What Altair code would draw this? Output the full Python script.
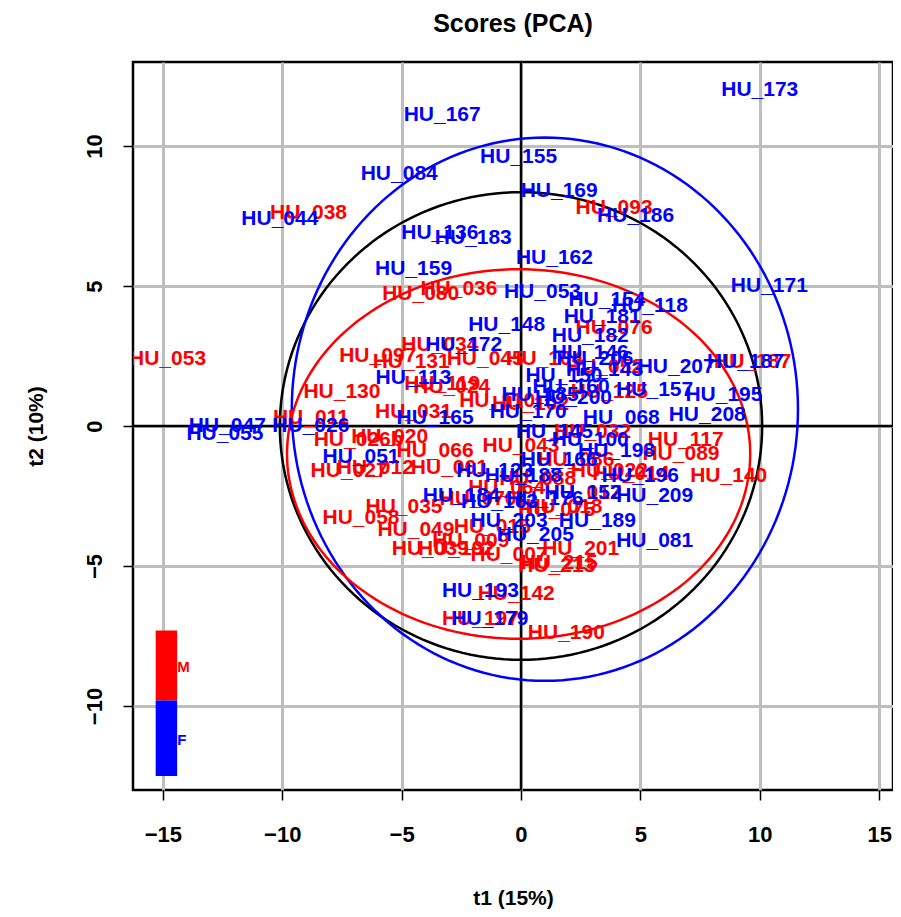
import numpy as np
import pandas as pd
import altair as alt

# sample scores (t1, t2), by sex
male_ids = ["HU_038", "HU_093", "HU_036", "HU_080", "HU_076", "HU_034", "HU_097", "HU_131",
            "HU_045", "HU_053", "HU_187", "HU_130", "HU_125", "HU_011", "HU_117", "HU_089",
            "HU_140", "HU_027", "HU_058", "HU_049", "HU_018", "HU_201", "HU_213", "HU_192",
            "HU_142", "HU_197", "HU_190", "HU_035", "HU_022", "HU_020", "HU_104", "HU_026b",
            "HU_061", "HU_070", "HU_014", "HU_031", "HU_119", "HU_102", "HU_032", "HU_015",
            "HU_009", "HU_064", "HU_075", "HU_012", "HU_086", "HU_024", "HU_043", "HU_066",
            "HU_110", "HU_215", "HU_017", "HU_007", "HU_088", "HU_039", "HU_052"]
male_t1 = [-8.9, 3.9, -2.6, -4.2, 3.9, -3.4, -6.0, -4.6,
           -1.5, -14.8, 9.7, -7.5, 3.7, -8.8, 6.9, 6.7,
           8.7, -7.2, -6.7, -4.4, 1.8, 2.5, 1.5, -2.7,
           -0.2, -1.7, 1.9, -4.9, 3.7, -5.5, 1.0, -6.8,
           -3.0, -1.8, 4.6, -4.5, -3.3, 0.4, 3.0, -1.2,
           -2.1, -0.6, 1.5, -6.1, 2.3, -2.9, 0.0, -3.6,
           -1.0, 1.6, 2.6, -0.5, 0.7, -3.8, 3.5]
male_t2 = [7.6, 7.8, 4.9, 4.7, 3.5, 2.9, 2.5, 2.3,
           2.4, 2.4, 2.3, 1.2, 1.2, 0.3, -0.5, -1.0,
           -1.8, -1.6, -3.3, -3.7, -2.9, -4.4, -5.0, -4.4,
           -6.0, -6.9, -7.4, -2.9, -1.6, -0.4, 2.4, -0.5,
           -1.5, -2.6, -1.7, 0.5, 1.5, 0.8, -0.2, -3.6,
           -4.1, -2.2, -3.0, -1.5, -1.2, 1.4, -0.7, -0.9,
           0.9, -4.9, -2.4, -4.6, -1.9, -4.4, 2.1]

female_ids = ["HU_167", "HU_155", "HU_084", "HU_169", "HU_186", "HU_044", "HU_136", "HU_183",
              "HU_162", "HU_159", "HU_053", "HU_154", "HU_118", "HU_171", "HU_173", "HU_181",
              "HU_148", "HU_182", "HU_172", "HU_146", "HU_207", "HU_187", "HU_157", "HU_195",
              "HU_208", "HU_185", "HU_068", "HU_047", "HU_026", "HU_055", "HU_051", "HU_100",
              "HU_166", "HU_188", "HU_196", "HU_209", "HU_189", "HU_081", "HU_203", "HU_193",
              "HU_179", "HU_150", "HU_143", "HU_160", "HU_184", "HU_165", "HU_176", "HU_123",
              "HU_198", "HU_152", "HU_170", "HU_145", "HU_206", "HU_113", "HU_205", "HU_200",
              "HU_163"]
female_t1 = [-3.3, -0.1, -5.1, 1.6, 4.8, -10.1, -3.4, -2.0,
             1.4, -4.5, 0.9, 3.6, 5.4, 10.4, 10.0, 3.4,
             -0.6, 2.9, -2.4, 2.9, 6.5, 9.4, 5.6, 8.5,
             7.8, 0.8, 4.2, -12.3, -8.8, -12.4, -6.7, 2.9,
             1.6, 0.1, 5.0, 5.6, 3.2, 5.6, -0.5, -1.7,
             -1.3, 1.8, 3.5, 2.1, -2.5, -3.6, 1.0, -1.1,
             4.0, 2.6, 0.3, 1.4, 3.1, -4.5, 0.6, 2.2, -0.9]
female_t2 = [11.1, 9.6, 9.0, 8.4, 7.5, 7.4, 6.9, 6.7,
             6.0, 5.6, 4.8, 4.5, 4.3, 5.0, 12.0, 3.9,
             3.6, 3.2, 2.9, 2.6, 2.1, 2.3, 1.3, 1.1,
             0.4, 1.1, 0.3, 0.0, 0.0, -0.3, -1.1, -0.5,
             -1.2, -1.8, -1.8, -2.5, -3.4, -4.1, -3.4, -5.9,
             -6.9, 1.8, 2.0, 1.4, -2.5, 0.3, -2.6, -1.6,
             -0.9, -2.4, 0.5, -0.2, 2.4, 1.7, -3.9, 1.0, -2.7]

# confidence ellipses: name, centre t1, centre t2, radius t1, radius t2
ell_names = ["all", "F", "M"]
ell_cx = [0.0, 1.0, -0.1]
ell_cy = [0.0, 0.6, -1.0]
ell_rx = [10.1, 10.6, 9.7]
ell_ry = [8.35, 9.7, 6.6]
ell_colors = ["black", "blue", "red"]

xdom = [-16.25, 15.58]
ydom = [-13.0, 13.0]

pts = pd.concat([
    pd.DataFrame({"id": male_ids, "t1": male_t1, "t2": male_t2, "sex": "M"}),
    pd.DataFrame({"id": female_ids, "t1": female_t1, "t2": female_t2, "sex": "F"}),
])

ang = np.linspace(0, 2 * np.pi, 181)
ell_rows = []
for n, cx, cy, rx, ry in zip(ell_names, ell_cx, ell_cy, ell_rx, ell_ry):
    for i, a in enumerate(ang):
        ell_rows.append({"e": n, "o": i, "t1": cx + rx * np.cos(a), "t2": cy + ry * np.sin(a)})
ell = pd.DataFrame(ell_rows)

xs = alt.Scale(domain=xdom, nice=False, zero=False)
ys = alt.Scale(domain=ydom, nice=False, zero=False)
ticks = [-15, -10, -5, 0, 5, 10, 15]
FONT = "Liberation Sans"
xaxis = alt.Axis(values=ticks, grid=True, gridColor="#bebebe", gridWidth=3, domain=False,
                 tickColor="black", tickSize=10, tickWidth=1.5, labelFontSize=22, labelFontWeight="bold",
                 labelColor="black", labelPadding=24, title="t1 (15%)", titleFontSize=21,
                 titleFontWeight="bold", titlePadding=42, labelFont=FONT, titleFont=FONT)
yaxis = alt.Axis(values=[-10, -5, 0, 5, 10], grid=True, gridColor="#bebebe", gridWidth=3, domain=False,
                 tickColor="black", tickSize=10, tickWidth=1.5, labelFontSize=22, labelFontWeight="bold",
                 labelColor="black", labelAngle=270, labelAlign="center", labelBaseline="bottom",
                 labelPadding=17, title="t2 (10%)", titleFontSize=21, titleFontWeight="bold",
                 titlePadding=37, labelFont=FONT, titleFont=FONT)

base = alt.Chart(pts).mark_point(opacity=0).encode(
    x=alt.X("t1:Q", scale=xs, axis=xaxis), y=alt.Y("t2:Q", scale=ys, axis=yaxis))

zero_lines = alt.Chart(pd.DataFrame({"v": [0]})).mark_rule(color="black", strokeWidth=2.5)
vline = zero_lines.encode(x=alt.X("v:Q", scale=xs))
hline = zero_lines.encode(y=alt.Y("v:Q", scale=ys))

ellipses = alt.Chart(ell).mark_line(strokeWidth=2.5, clip=True).encode(
    x=alt.X("t1:Q", scale=xs), y=alt.Y("t2:Q", scale=ys), detail="e:N", order="o:Q",
    color=alt.Color("e:N", scale=alt.Scale(domain=ell_names, range=ell_colors), legend=None))

sex_scale = alt.Scale(domain=["M", "F"], range=["red", "blue"])
labels = alt.Chart(pts).mark_text(fontSize=21, fontWeight="bold", font=FONT, clip=True).encode(
    x=alt.X("t1:Q", scale=xs), y=alt.Y("t2:Q", scale=ys), text="id:N",
    color=alt.Color("sex:N", scale=sex_scale, legend=None))

leg = pd.DataFrame({"sex": ["M", "F"], "x0": [-15.3, -15.3], "x1": [-14.4, -14.4],
                    "y0": [-7.3, -9.8], "y1": [-9.8, -12.5], "ty": [-8.6, -11.2]})
leg_rect = alt.Chart(leg).mark_rect().encode(
    x=alt.X("x0:Q", scale=xs), x2="x1", y=alt.Y("y0:Q", scale=ys), y2="y1",
    color=alt.Color("sex:N", scale=sex_scale, legend=None))
leg_text = alt.Chart(leg).mark_text(fontSize=15, fontWeight="bold", font=FONT, align="left").encode(
    x=alt.X("x1:Q", scale=xs), y=alt.Y("ty:Q", scale=ys), text="sex:N",
    color=alt.Color("sex:N", scale=sex_scale, legend=None))

chart = alt.layer(base, vline, hline, ellipses, labels, leg_rect, leg_text).properties(
    width=760, height=728,
    title=alt.TitleParams("Scores (PCA)", fontSize=25, fontWeight="bold", font=FONT, offset=24),
    autosize=alt.AutoSizeParams(type="none"),
    padding={"left": 125, "top": 54, "right": 0, "bottom": 120},
).configure_view(stroke="black", strokeWidth=2.5)

chart.save("out.html", embed_options={"renderer": "svg", "actions": False})
